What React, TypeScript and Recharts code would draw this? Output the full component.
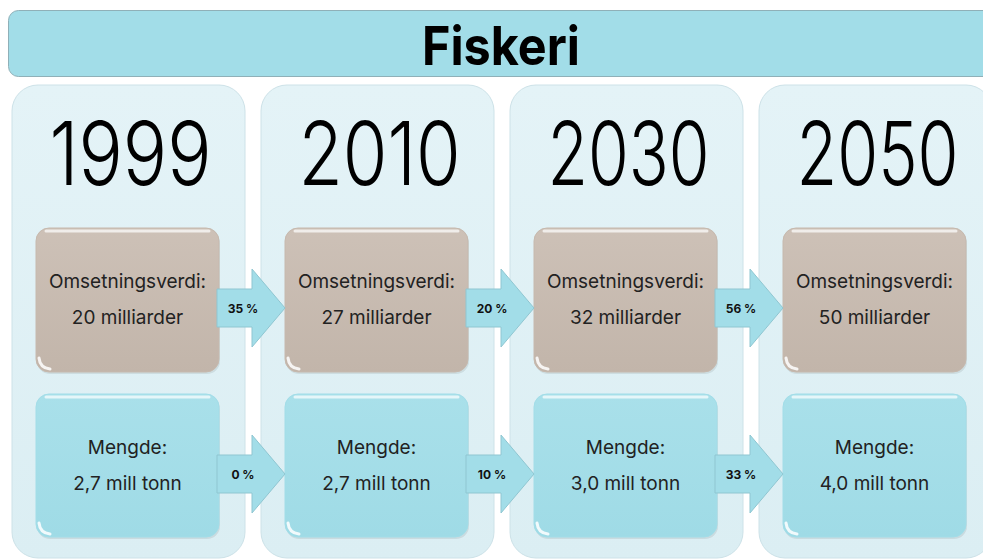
import React from 'react';
import { BarChart, Bar, XAxis, YAxis } from 'recharts';

const years = ['1999', '2010', '2030', '2050'];
const omsetning = [20, 27, 32, 50]; // milliarder
const mengde = [2.7, 2.7, 3.0, 4.0]; // mill tonn
const omsetningEndring = [35, 20, 56]; // % mellom årene
const mengdeEndring = [0, 10, 33];

const data = years.map((year, i) => ({ year, panel: 1, arrow: 1, idx: i }));

const FONT = 'Inter, "Open Sans", "DejaVu Sans", sans-serif';
const BROWN = '#c6b9ae';
const BLUE = '#a2dde8';

function fmt(v: number) {
  return v.toFixed(1).replace('.', ',');
}

function Box({ x, y, w, h, fill, grad, lines }: any) {
  const cx = x + w / 2;
  return (
    <g>
      <rect x={x + 1} y={y + 2} width={w} height={h} rx={13} fill="#000" opacity={0.08} />
      <rect x={x} y={y} width={w} height={h} rx={13} fill={`url(#${grad})`} stroke={fill} />
      <path
        d={`M ${x + 10} ${y + 3} L ${x + w - 10} ${y + 3}`}
        stroke="#fff"
        strokeOpacity={0.7}
        strokeWidth={3}
        strokeLinecap="round"
      />
      <path
        d={`M ${x + 3} ${y + h - 14} Q ${x + 4} ${y + h - 4} ${x + 14} ${y + h - 3}`}
        stroke="#fff"
        strokeOpacity={0.85}
        strokeWidth={3}
        fill="none"
        strokeLinecap="round"
      />
      <text x={cx} y={y + 60} textAnchor="middle" fontFamily={FONT} fontSize={19} fill="#222">
        {lines[0]}
      </text>
      <text x={cx} y={y + 96} textAnchor="middle" fontFamily={FONT} fontSize={19} fill="#222">
        {lines[1]}
      </text>
    </g>
  );
}

function PanelShape(props: any) {
  const { x, y, width, height, index } = props;
  const cx = x + width / 2;
  const bx = x + 24;
  const bw = width - 50;
  return (
    <g>
      <defs>
        <linearGradient id="panelGrad" x1="0" y1="0" x2="0" y2="1">
          <stop offset="0%" stopColor="#e4f3f7" />
          <stop offset="100%" stopColor="#dbeef3" />
        </linearGradient>
        <linearGradient id="brownGrad" x1="0" y1="0" x2="0" y2="1">
          <stop offset="0%" stopColor="#cdc1b7" />
          <stop offset="100%" stopColor="#c2b5aa" />
        </linearGradient>
        <linearGradient id="blueGrad" x1="0" y1="0" x2="0" y2="1">
          <stop offset="0%" stopColor="#a9e0ea" />
          <stop offset="100%" stopColor="#9fdbe6" />
        </linearGradient>
      </defs>
      <rect x={x} y={y} width={width} height={height} rx={26} fill="url(#panelGrad)" stroke="#cde2e8" />
      <text
        x={cx + 2}
        y={y + 100}
        textAnchor="middle"
        fontFamily={FONT}
        fontWeight={300}
        fontSize={88}
        textLength={162}
        lengthAdjust="spacingAndGlyphs"
        fill="#000"
      >
        {years[index]}
      </text>
      <Box
        x={bx}
        y={y + 143}
        w={bw}
        h={144}
        fill={BROWN}
        grad="brownGrad"
        lines={['Omsetningsverdi:', `${omsetning[index]} milliarder`]}
      />
      <Box
        x={bx}
        y={y + 309}
        w={bw}
        h={143}
        fill={BLUE}
        grad="blueGrad"
        lines={['Mengde:', `${fmt(mengde[index])} mill tonn`]}
      />
    </g>
  );
}

function Arrow({ x0, cy, label }: any) {
  const x1 = x0 + 35;
  const tip = x0 + 68;
  const pts = [
    [x0, cy - 19],
    [x1, cy - 19],
    [x1, cy - 39],
    [tip, cy],
    [x1, cy + 39],
    [x1, cy + 19],
    [x0, cy + 19],
  ]
    .map((p) => p.join(','))
    .join(' ');
  return (
    <g>
      <polygon points={pts} fill={BLUE} stroke="#8fc6d1" strokeWidth={1} />
      <text
        x={x0 + 26}
        y={cy + 5}
        textAnchor="middle"
        fontFamily={FONT}
        fontWeight={700}
        fontSize={12}
        fill="#111"
      >
        {label}
      </text>
    </g>
  );
}

function ArrowShape(props: any) {
  const { x, y, width, index } = props;
  if (index >= omsetningEndring.length) return <g />;
  const x0 = x + width - 28;
  return (
    <g>
      <Arrow x0={x0} cy={y + 223} label={`${omsetningEndring[index]} %`} />
      <Arrow x0={x0} cy={y + 389} label={`${mengdeEndring[index]} %`} />
    </g>
  );
}

export default function App() {
  return (
    <div style={{ position: 'relative', width: 983, height: 560, overflow: 'hidden', background: '#fff' }}>
      <style>{'body{margin:0}'}</style>
      <svg width={983} height={85} style={{ position: 'absolute', left: 0, top: 0 }}>
        <rect x={8.5} y={10.5} width={1000} height={66} rx={10} fill={BLUE} stroke="#8fb0b8" />
        <text
          x={501}
          y={65}
          textAnchor="middle"
          fontFamily={FONT}
          fontWeight={700}
          fontSize={54}
          textLength={158}
          lengthAdjust="spacingAndGlyphs"
          fill="#000"
        >
          Fiskeri
        </text>
      </svg>
      <div style={{ position: 'absolute', left: 0, top: 0 }}>
        <BarChart
          width={1000}
          height={560}
          data={data}
          margin={{ top: 85, right: 0, left: 4, bottom: 2 }}
          barCategoryGap={8}
        >
          <XAxis xAxisId="panel" dataKey="year" hide />
          <XAxis xAxisId="arrow" dataKey="year" hide />
          <YAxis domain={[0, 1]} hide />
          <Bar xAxisId="panel" dataKey="panel" shape={PanelShape} isAnimationActive={false} />
          <Bar xAxisId="arrow" dataKey="arrow" shape={ArrowShape} isAnimationActive={false} />
        </BarChart>
      </div>
    </div>
  );
}
